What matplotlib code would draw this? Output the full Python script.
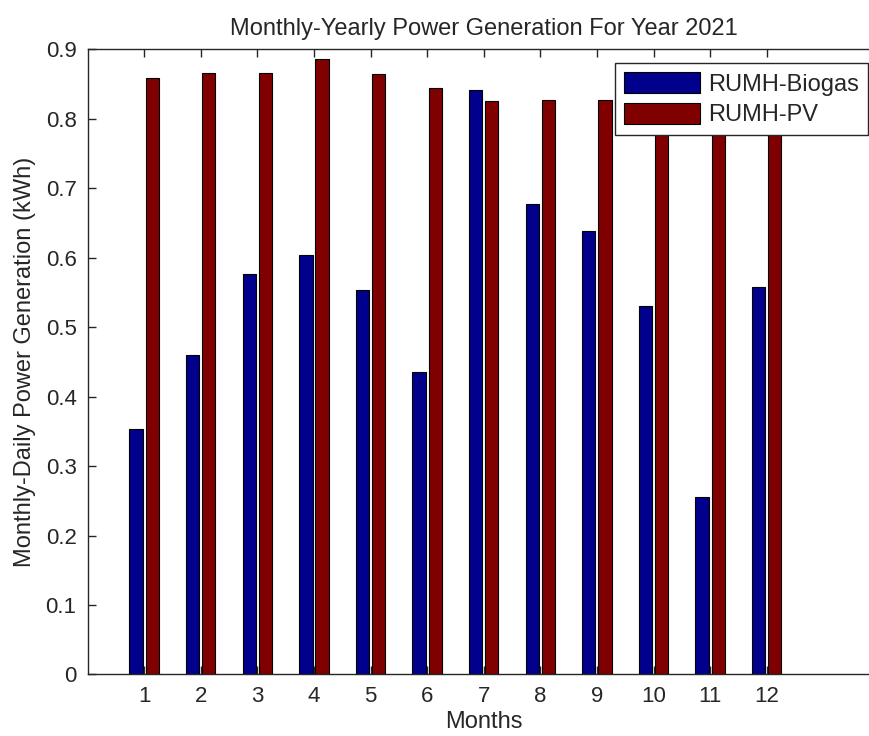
import numpy as np
import matplotlib
matplotlib.use("Agg")
import matplotlib.pyplot as plt

# ----- Data -----
months = np.arange(1, 13)
month_labels = [str(m) for m in months]
biogas = [0.353, 0.460, 0.577, 0.604, 0.553, 0.436, 0.842, 0.678, 0.639, 0.530, 0.256, 0.558]
pv = [0.858, 0.866, 0.866, 0.886, 0.864, 0.844, 0.825, 0.827, 0.827, 0.830, 0.829, 0.832]
series_names = ["RUMH-Biogas", "RUMH-PV"]

# ----- Style -----
plt.rcParams["font.family"] = ["Liberation Sans", "DejaVu Sans"]
fs_tick = 16
fs = 17
ink = "#262626"

fig = plt.figure(figsize=(8.69, 7.36), dpi=100)
# right edge of the axes runs past the figure, like the cropped original
ax = fig.add_axes([0.1009, 0.0836, 0.9118, 0.8494])

bw = 0.235
ax.bar(months - 0.145, biogas, width=bw, color="#00008C", edgecolor="black",
       linewidth=0.8, label=series_names[0])
ax.bar(months + 0.14, pv, width=bw, color="#800000", edgecolor="black",
       linewidth=0.8, label=series_names[1])

ax.set_xlim(0, 14)
ax.set_ylim(0, 0.9)
ax.set_xticks(months)
ax.set_xticklabels(month_labels)
ax.set_yticks(np.arange(0, 0.91, 0.1))
ax.set_yticklabels(["0"] + [f"{v:.1f}" for v in np.arange(0.1, 0.91, 0.1)])

ax.tick_params(direction="in", length=6, width=1, colors=ink, labelsize=fs_tick,
               top=True, right=True, pad=8)
for sp in ax.spines.values():
    sp.set_color(ink)
    sp.set_linewidth(1)

ax.set_title("Monthly-Yearly Power Generation For Year 2021", fontsize=fs,
             color=ink, pad=10)
ax.set_xlabel("Months", fontsize=fs, color=ink, labelpad=3)
ax.set_ylabel("Monthly-Daily Power Generation (kWh)", fontsize=fs, color=ink,
              labelpad=7)

leg = ax.legend(loc="upper right", bbox_to_anchor=(868 / 869, 1 - 63 / 736),
                bbox_transform=fig.transFigure, borderaxespad=0, fontsize=fs,
                fancybox=False, framealpha=1, edgecolor=ink,
                handlelength=3.2, handleheight=1.0, handletextpad=0.35,
                labelspacing=0.3, borderpad=0.38)
leg.get_frame().set_linewidth(1)
for t in leg.get_texts():
    t.set_color(ink)

fig.savefig("out.png", dpi=100)
